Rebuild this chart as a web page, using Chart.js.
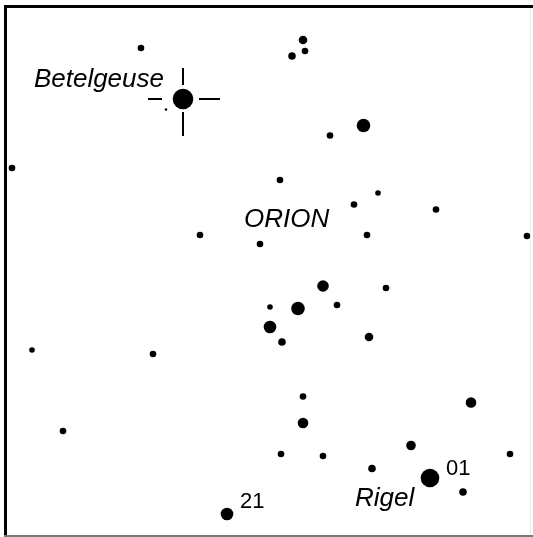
<!DOCTYPE html>
<html>
<head>
<meta charset="utf-8">
<title>Orion</title>
<script src="https://cdn.jsdelivr.net/npm/chart.js@4"></script>
<style>
  html, body { margin: 0; padding: 0; background: #fff; }
  #starChart { display: block; }
</style>
</head>
<body>
<canvas id="starChart" width="533" height="537"></canvas>
<script>
// star positions (x to the right, y downward) and magnitudes
const starX = [141, 183, 166, 12, 200, 260, 303, 292, 305, 363.5, 330, 280, 378, 354, 436, 367, 527,
  32, 153, 63, 227, 323, 386, 270, 298, 337, 270, 282, 369, 303, 471, 303, 411, 281, 323, 510, 372, 430, 463];
const starY = [48, 99, 109.5, 168, 235, 244, 40, 56, 51, 125.5, 135.5, 180, 193, 204.5, 209.5, 235, 236,
  350, 354, 431, 514, 286, 288, 307, 308.5, 305, 327, 342, 337, 396.5, 402.5, 423, 445.5, 454, 456, 454, 468.5, 478, 492];
const starMag = [4, 0.5, 5, 4, 4, 4, 3.5, 3.75, 4, 2.25, 4, 4, 4.25, 4, 4, 4, 4,
  4.25, 4, 4, 2.5, 2.75, 4, 4.25, 2.25, 4, 2.5, 3.75, 3.5, 4, 3, 3, 3.25, 4, 4, 4, 3.75, 1, 3.75];

const labelText = ["Betelgeuse", "ORION", "Rigel", "01", "21"];
const labelX = [164, 244, 355, 446, 240];
const labelY = [87, 227, 506, 475, 508];
const labelItalic = [true, true, true, false, false];

const BETELGEUSE = 1;

document.addEventListener("DOMContentLoaded", () => {
  const canvas = document.getElementById("starChart");

  const points = starX.map((x, i) => ({ x: x, y: starY[i] }));

  // brighter star -> bigger dot
  function radiusFor(mag) {
    return Math.max(1, 11.3 - 2 * mag);
  }

  const mapDecor = {
    id: "mapDecor",
    afterDatasetsDraw(chart) {
      const ctx = chart.ctx;
      const xs = chart.scales.x;
      const ys = chart.scales.y;
      const area = chart.chartArea;

      ctx.save();

      // crosshair around Betelgeuse
      const cx = xs.getPixelForValue(starX[BETELGEUSE]);
      const cy = ys.getPixelForValue(starY[BETELGEUSE]);
      ctx.strokeStyle = "#000";
      ctx.lineWidth = 2;
      ctx.beginPath();
      ctx.moveTo(cx, cy - 31); ctx.lineTo(cx, cy - 14);
      ctx.moveTo(cx, cy + 13); ctx.lineTo(cx, cy + 37);
      ctx.moveTo(cx - 35, cy); ctx.lineTo(cx - 21, cy);
      ctx.moveTo(cx + 16, cy); ctx.lineTo(cx + 37, cy);
      ctx.stroke();

      // labels
      ctx.fillStyle = "#000";
      ctx.textBaseline = "alphabetic";
      labelText.forEach((txt, i) => {
        ctx.font = labelItalic[i]
          ? "italic 26px 'Liberation Sans', Arial, sans-serif"
          : "22px 'Liberation Sans', Arial, sans-serif";
        ctx.textAlign = i === 0 ? "right" : "left";
        ctx.fillText(txt, xs.getPixelForValue(labelX[i]), ys.getPixelForValue(labelY[i]));
      });

      // frame
      ctx.strokeStyle = "#000";
      ctx.lineWidth = 3;
      ctx.beginPath();
      ctx.moveTo(area.left + 5.5, area.bottom);
      ctx.lineTo(area.left + 5.5, area.top + 6.5);
      ctx.lineTo(area.right, area.top + 6.5);
      ctx.stroke();
      ctx.strokeStyle = "#777";
      ctx.lineWidth = 2;
      ctx.beginPath();
      ctx.moveTo(area.left + 4, area.bottom - 1);
      ctx.lineTo(area.right, area.bottom - 1);
      ctx.stroke();
      ctx.strokeStyle = "#eee";
      ctx.lineWidth = 1;
      ctx.beginPath();
      ctx.moveTo(area.right - 2.5, area.top + 8);
      ctx.lineTo(area.right - 2.5, area.bottom - 2);
      ctx.stroke();

      ctx.restore();
    },
  };

  new Chart(canvas, {
    type: "scatter",
    data: {
      datasets: [
        {
          label: "Stars",
          data: points,
          backgroundColor: "#000",
          borderWidth: 0,
          pointRadius: (c) => radiusFor(starMag[c.dataIndex]),
          pointHoverRadius: (c) => radiusFor(starMag[c.dataIndex]),
          clip: false,
        },
      ],
    },
    options: {
      responsive: false,
      animation: false,
      layout: { padding: 0, autoPadding: false },
      plugins: {
        legend: { display: false },
        tooltip: { enabled: false },
      },
      scales: {
        x: { type: "linear", display: false, min: 0, max: 533 },
        y: { type: "linear", display: false, min: 0, max: 537, reverse: true },
      },
    },
    plugins: [mapDecor],
  });
});
</script>
</body>
</html>
